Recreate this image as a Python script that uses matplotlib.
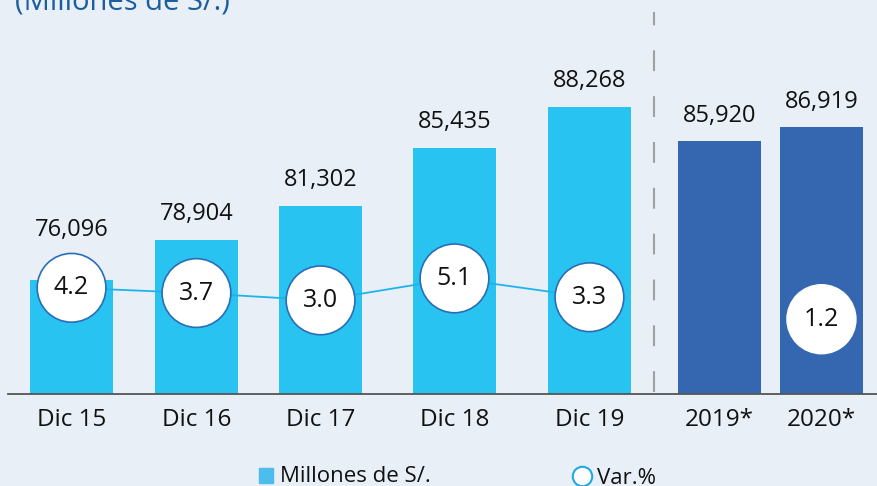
import matplotlib.pyplot as plt
from matplotlib.lines import Line2D
import numpy as np

plt.rcParams['font.family'] = ['Open Sans', 'DejaVu Sans']

# data
categories = ['Dic 15', 'Dic 16', 'Dic 17', 'Dic 18', 'Dic 19', '2019*', '2020*']
millones = [76096, 78904, 81302, 85435, 88268, 85920, 86919]
var_cats = ['Dic 15', 'Dic 16', 'Dic 17', 'Dic 18', 'Dic 19', '2020*']
var_pct = [4.2, 3.7, 3.0, 5.1, 3.3, 1.2]
n_hist = 5  # first five are December figures, last two are projections

bg = '#E8EFF6'
light = '#29C3F1'
dark = '#3567B0'

xpos = np.array([0.03, 0.995, 1.954, 2.989, 4.032, 5.037, 5.825])
xmap = dict(zip(categories, xpos))
base = 68018
px = 100 / 72  # pixels per point at dpi 100

fig = plt.figure(figsize=(8.78, 4.86), dpi=100)
fig.patch.set_facecolor(bg)

ax = fig.add_axes([0, 0, 1, 1])
ax.set_facecolor(bg)
ax.set_xlim(-0.523, 6.262)
ax.set_ylim(61517, 95863)
ax.axis('off')

colors = [light] * n_hist + [dark] * (len(categories) - n_hist)
heights = [v - base for v in millones]
ax.bar(xpos, heights, bottom=base, width=0.64, color=colors, zorder=2)

# value labels above bars (first one lifted to clear its circle)
lift = [38, 14, 14, 14, 14, 13, 13]
for x, v, l in zip(xpos, millones, lift):
    ax.annotate(f'{v:,}', (x, v), xytext=(0, l / px), textcoords='offset points',
                ha='center', va='bottom', fontsize=17, color='#111111')

# category labels under the baseline
for x, c in zip(xpos, categories):
    ax.annotate(c, (x, base), xytext=(0, -26 / px), textcoords='offset points',
                ha='center', va='center', fontsize=17.5, color='#111111')

ax.axhline(base, xmin=8 / 878, xmax=1, color='#555555', lw=1.3, zorder=3)
sep = (xpos[n_hist - 1] + xpos[n_hist]) / 2
ax.axvline(sep, ymin=1 - 392 / 486, ymax=1 - 12 / 486, color='#a0a0a0', lw=1.5,
           dashes=(10, 12), zorder=1)

# var % circles on an overlay axis
ax3 = fig.add_axes([0, 0, 1, 1], sharex=ax)
ax3.set_ylim(-14.73, 31.69)
ax3.axis('off')
ax3.patch.set_alpha(0)
vx = [xmap[c] for c in var_cats]
ax3.plot(vx[:n_hist], var_pct[:n_hist], color='#1FB3EE', lw=1.3, zorder=1)
edge = ['#2A6DB5'] * n_hist + ['white']
ax3.scatter(vx, var_pct, s=2450, facecolor='white',
            edgecolor=edge, linewidth=1.2, zorder=2)
for x, v in zip(vx, var_pct):
    ax3.text(x, v, f'{v:.1f}', ha='center', va='center', fontsize=18,
             color='#111111', zorder=3)

# title (cut off at the top in the original)
fig.text(15 / 878, 1 - 9 / 486, '(Millones de S/.)', fontsize=21,
         color='#1B5E9E', va='baseline', ha='left')

# legend
fig.patches.append(plt.Rectangle((259 / 878, 1 - 483 / 486), 14 / 878, 15 / 486,
                                 transform=fig.transFigure, color='#4DBDEB'))
fig.text(280 / 878, 1 - 476 / 486, 'Millones de S/.', fontsize=16,
         color='#111111', va='center', ha='left')
fig.add_artist(Line2D([582 / 878], [1 - 476 / 486], transform=fig.transFigure,
                      marker='o', markersize=14, markerfacecolor='white',
                      markeredgecolor='#1FA8E8', markeredgewidth=1.5, ls='none'))
fig.text(597 / 878, 1 - 478 / 486, 'Var.%', fontsize=16,
         color='#111111', va='center', ha='left')

fig.savefig('out.png', dpi=100, facecolor=bg)
